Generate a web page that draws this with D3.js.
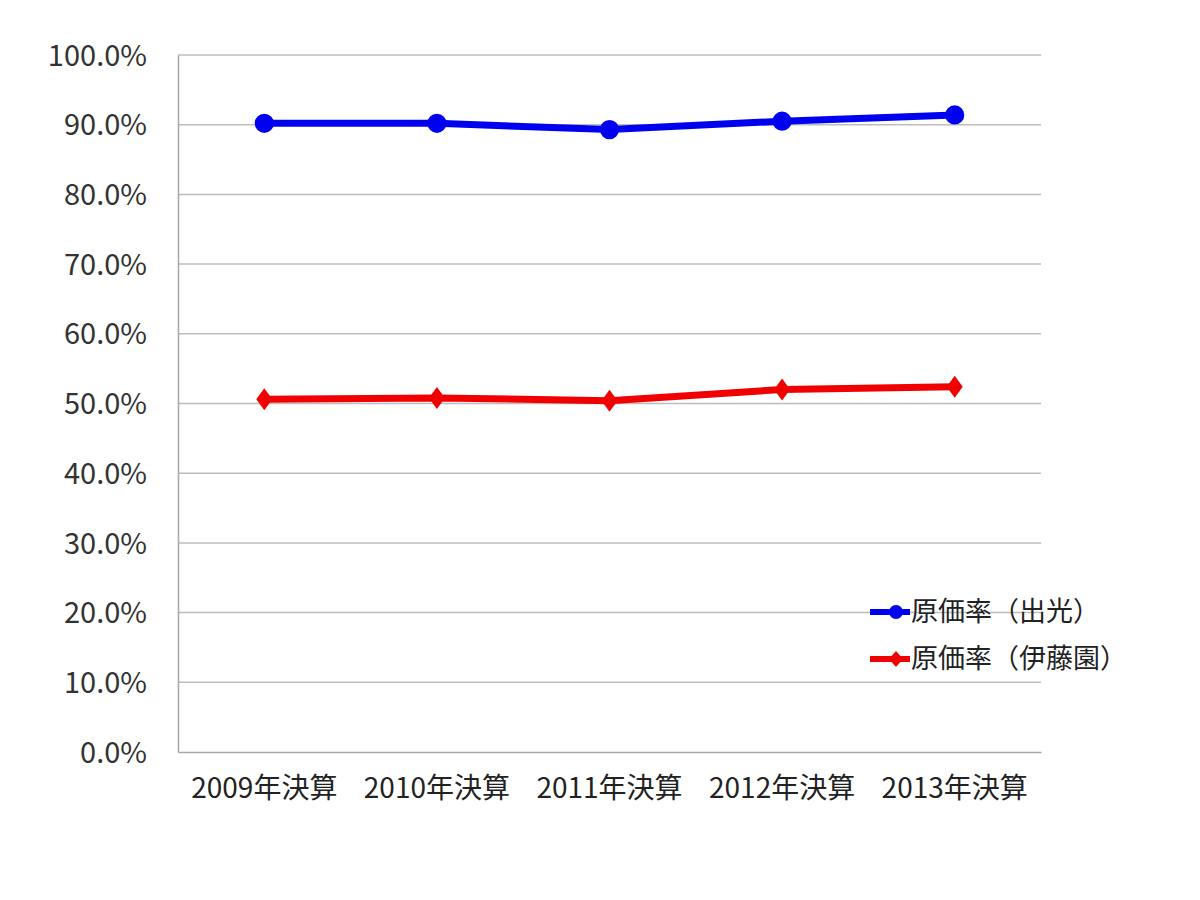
<!DOCTYPE html>
<html>
<head>
<meta charset="utf-8">
<script src="https://cdn.jsdelivr.net/npm/d3@7"></script>
<style>
  body{margin:0;background:#fff;}
  text{font-family:"Noto Sans CJK JP","Noto Sans",sans-serif;}
</style>
</head>
<body>
<svg id="chart" width="1200" height="900"></svg>
<script>
const years=["2009年決算","2010年決算","2011年決算","2012年決算","2013年決算"];
const idemitsu=[90.2,90.2,89.3,90.5,91.4];
const itoen=[50.6,50.8,50.4,52.0,52.4];
const yTicks=[0,10,20,30,40,50,60,70,80,90,100];
const seriesNames=["原価率（出光）","原価率（伊藤園）"];
const seriesColors=["#0000f0","#f00000"];

const svg=d3.select("#chart");
const plotL=178,plotR=1041,plotT=55,plotB=752;

const x=d3.scaleBand().domain(years).range([plotL,plotR]);
const y=d3.scaleLinear().domain([0,100]).range([plotB,plotT]);

// grid
svg.append("g").selectAll("line").data(yTicks.filter(d=>d>0)).join("line")
  .attr("x1",plotL).attr("x2",plotR).attr("y1",d=>y(d)).attr("y2",d=>y(d))
  .attr("stroke","#bdbdbd").attr("stroke-width",1.5);

// axes
const yAxis=svg.append("g").attr("transform",`translate(${plotL},0)`)
  .call(d3.axisLeft(y).tickValues(yTicks).tickSize(0).tickPadding(31).tickFormat(d=>d.toFixed(1)+"%"));
yAxis.select(".domain").attr("stroke","#a8a8a8").attr("stroke-width",1.5);
yAxis.selectAll("text").attr("font-size",29).attr("fill","#333").attr("dy","0.35em");

const xAxis=svg.append("g").attr("transform",`translate(0,${plotB})`)
  .call(d3.axisBottom(x).tickSize(0).tickPadding(26));
xAxis.select(".domain").attr("stroke","#a8a8a8").attr("stroke-width",1.5);
xAxis.selectAll("text").attr("font-size",28).attr("fill","#222");

const cx=d=>x(d)+x.bandwidth()/2;
const line=d3.line().x((d,i)=>cx(years[i])).y(d=>y(d));

function drawSeries(vals,color,shape){
  svg.append("path").datum(vals).attr("d",line)
    .attr("fill","none").attr("stroke",color).attr("stroke-width",7).attr("stroke-linejoin","round");
  svg.append("g").selectAll("path").data(vals).join("path")
    .attr("transform",(d,i)=>`translate(${cx(years[i])},${y(d)})`)
    .attr("d",shape).attr("fill",color);
}
const circ=d3.symbol().type(d3.symbolCircle).size(290)();
const diam="M0,-11 L8,0 L0,11 L-8,0 Z";
drawSeries(idemitsu,seriesColors[0],circ);
drawSeries(itoen,seriesColors[1],diam);

// legend
const circS=d3.symbol().type(d3.symbolCircle).size(150)();
const diamS="M0,-8 L7,0 L0,8 L-7,0 Z";
const lg=svg.append("g");
[0,1].forEach(i=>{
  const ly=612+i*47;
  lg.append("line").attr("x1",870).attr("x2",910).attr("y1",ly).attr("y2",ly)
    .attr("stroke",seriesColors[i]).attr("stroke-width",6);
  lg.append("path").attr("transform",`translate(896,${ly})`).attr("d",i===0?circS:diamS).attr("fill",seriesColors[i]);
  lg.append("text").attr("x",911).attr("y",ly).attr("dy","0.35em").attr("font-size",27).attr("fill","#222")
    .text(seriesNames[i]);
});
</script>
</body>
</html>
